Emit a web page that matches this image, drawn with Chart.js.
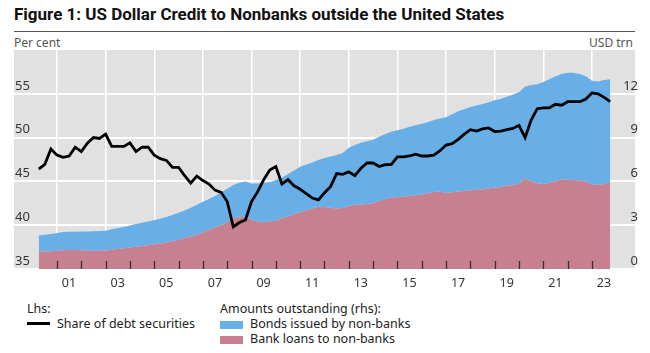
<!doctype html>
<html>
<head>
<meta charset="utf-8">
<title>US Dollar Credit to Nonbanks outside the United States</title>
<script src="https://cdn.jsdelivr.net/npm/chart.js@4.4.0/dist/chart.umd.min.js"></script>
<style>
  body { margin: 0; background: #fff; font-family: "Noto Sans", sans-serif; color: #333; }
  #wrap { position: relative; width: 650px; height: 353px; overflow: hidden; }
  #title { position: absolute; left: 14px; top: 4px; font: bold 17px Roboto, sans-serif; color: #111; white-space: nowrap; }
  #rule { position: absolute; left: 14px; top: 31px; width: 621px; height: 0; border-top: 1.5px solid #555; }
  .unit { position: absolute; top: 34px; font-size: 12px; color: #555; }
  #chart { position: absolute; left: 0; top: 0; }
  .leg { position: absolute; font-size: 12.5px; color: #222; white-space: nowrap; line-height: 15px; }
  .sw { display: inline-block; width: 23px; height: 8px; margin-right: 7px; vertical-align: -1px; }
  .ln { display: inline-block; width: 23px; height: 0; border-top: 3px solid #000; margin-right: 7px; vertical-align: 3px; }
</style>
</head>
<body>
<div id="wrap">
  <div id="title">Figure 1: US Dollar Credit to Nonbanks outside the United States</div>
  <div id="rule"></div>
  <div class="unit" style="left:14px">Per cent</div>
  <div class="unit" style="right:17px">USD trn</div>
  <canvas id="chart" width="650" height="298"></canvas>
  <div class="leg" style="left:27px; top:301px">Lhs:<br><span class="ln"></span>Share of debt securities</div>
  <div class="leg" style="left:220px; top:301px">Amounts outstanding (rhs):<br><span class="sw" style="background:#67afe6"></span>Bonds issued by non-banks<br><span class="sw" style="background:#c7808f"></span>Bank loans to non-banks</div>
</div>

<script>
// quarterly, 2000 Q1 .. 2023 Q3
var firstYear = 2000, lastYear = 2023, lastQuarter = 3;
var quarters = [];
for (var y = firstYear; y <= lastYear; y++) {
  for (var q = 1; q <= 4; q++) {
    if (y === lastYear && q > lastQuarter) break;
    quarters.push(y + "Q" + q);
  }
}

// Lhs, per cent
var shareDebtSecurities = [
  46.4, 46.95, 48.7, 48.0, 47.75, 47.9, 48.9, 48.4, 49.35, 50.0,
  49.9, 50.4, 49.0, 49.0, 49.0, 49.4, 48.4, 48.9, 48.9, 48.0,
  47.6, 47.4, 46.6, 46.6, 45.65, 44.8, 45.6, 45.1, 44.7, 44.0,
  43.75, 42.7, 39.8, 40.3, 40.6, 42.7, 43.8, 45.2, 46.3, 46.7,
  44.7, 45.2, 44.5, 44.1, 43.6, 43.1, 42.9, 43.7, 44.4, 45.9,
  45.8, 46.1, 45.65, 46.5, 47.1, 47.1, 46.7, 46.9, 46.95, 47.8,
  47.8, 47.9, 48.1, 47.9, 47.9, 48.0, 48.5, 49.15, 49.3, 49.8,
  50.4, 50.9, 50.75, 51.0, 51.1, 50.7, 50.75, 50.9, 51.05, 51.4,
  50.0, 52.0, 53.3, 53.4, 53.4, 53.8, 53.7, 54.1, 54.1, 54.1,
  54.4, 55.1, 55.0, 54.6, 54.1
];

// Rhs, USD trn
var bankLoans = [
  1.18, 1.2, 1.22, 1.25, 1.28, 1.3, 1.3, 1.28, 1.27, 1.25,
  1.25, 1.27, 1.32, 1.37, 1.42, 1.47, 1.52, 1.57, 1.63, 1.7,
  1.75, 1.82, 1.9, 2.0, 2.12, 2.22, 2.35, 2.5, 2.7, 2.85,
  3.0, 3.2, 3.45, 3.55, 3.6, 3.35, 3.25, 3.2, 3.25, 3.3,
  3.5, 3.6, 3.75, 3.9, 4.0, 4.15, 4.27, 4.25, 4.2, 4.15,
  4.18, 4.3, 4.4, 4.42, 4.45, 4.5, 4.65, 4.8, 4.88, 4.92,
  4.97, 5.0, 5.05, 5.1, 5.18, 5.27, 5.3, 5.2, 5.25, 5.3,
  5.35, 5.4, 5.43, 5.47, 5.52, 5.57, 5.62, 5.7, 5.75, 5.85,
  6.2, 6.0, 5.88, 5.82, 5.9, 6.0, 6.15, 6.12, 6.1, 6.07,
  6.0, 5.78, 5.75, 5.82, 5.9
];

var bondsNonBanks = [
  1.12, 1.15, 1.18, 1.22, 1.25, 1.25, 1.25, 1.28, 1.3, 1.33,
  1.35, 1.35, 1.4, 1.43, 1.46, 1.51, 1.56, 1.59, 1.62, 1.65,
  1.7, 1.75, 1.8, 1.85, 1.88, 1.98, 2.05, 2.1, 2.1, 2.15,
  2.25, 2.3, 2.3, 2.35, 2.4, 2.5, 2.6, 2.7, 2.7, 2.8,
  2.75, 2.9, 3.0, 3.1, 3.15, 3.15, 3.2, 3.35, 3.5, 3.65,
  3.77, 4.0, 4.1, 4.23, 4.3, 4.35, 4.4, 4.45, 4.52, 4.58,
  4.63, 4.75, 4.8, 4.85, 4.87, 4.93, 5.0, 5.2, 5.35, 5.5,
  5.6, 5.7, 5.77, 5.83, 5.88, 5.98, 6.03, 6.1, 6.2, 6.25,
  6.3, 6.6, 6.77, 6.98, 7.1, 7.2, 7.2, 7.33, 7.35, 7.28,
  7.2, 7.12, 7.1, 7.13, 7.1
];

var yearTicks = [2001, 2002, 2003, 2004, 2005, 2006, 2007, 2008, 2009, 2010, 2011, 2012,
                 2013, 2014, 2015, 2016, 2017, 2018, 2019, 2020, 2021, 2022, 2023];
var lhsTicks = [35, 40, 45, 50, 55];
var rhsTicks = [0, 3, 6, 9, 12];

// quarter point sits at end of its quarter
function qPos(s) { return +s.slice(0, 4) + (+s.slice(5)) / 4; }
function pts(arr) { return quarters.map(function (s, i) { return { x: qPos(s), y: arr[i] }; }); }

var greyBg = {
  id: 'greyBg',
  beforeDraw: function (chart) {
    var a = chart.chartArea, c = chart.ctx;
    c.save();
    c.fillStyle = '#e1e1e1';
    c.fillRect(a.left, a.top, a.right - a.left, a.bottom - a.top);
    c.restore();
  }
};

var yearMarks = {
  id: 'yearMarks',
  afterDatasetsDraw: function (chart) {
    var sx = chart.scales.x, a = chart.chartArea, c = chart.ctx;
    c.save();
    c.strokeStyle = '#333';
    c.lineWidth = 1.3;
    yearTicks.forEach(function (v) {
      var px = Math.round(sx.getPixelForValue(v)) + 0.5;
      c.beginPath();
      c.moveTo(px, a.bottom - 8);
      c.lineTo(px, a.bottom);
      c.stroke();
    });
    c.restore();
  }
};

new Chart(document.getElementById('chart'), {
  type: 'line',
  data: {
    datasets: [
      { label: 'Share of debt securities', data: pts(shareDebtSecurities), yAxisID: 'y',
        borderColor: '#000', borderWidth: 2.8, pointRadius: 0, fill: false, tension: 0 },
      { label: 'Bank loans to non-banks', data: pts(bankLoans), yAxisID: 'y1',
        borderWidth: 0, borderColor: 'rgba(0,0,0,0)', backgroundColor: '#c7808f', pointRadius: 0, fill: 'origin' },
      { label: 'Bonds issued by non-banks', data: pts(bondsNonBanks), yAxisID: 'y1',
        borderWidth: 0, borderColor: 'rgba(0,0,0,0)', backgroundColor: '#67afe6', pointRadius: 0, fill: '-1' }
    ]
  },
  options: {
    responsive: false,
    devicePixelRatio: 1,
    animation: false,
    layout: { padding: { top: 50, left: 14, right: 15, bottom: 0 } },
    plugins: { legend: { display: false }, tooltip: { enabled: false } },
    scales: {
      x: {
        type: 'linear', min: 1999.232, max: 2024.77,
        afterBuildTicks: function (s) { s.ticks = yearTicks.map(function (v) { return { value: v }; }); },
        afterFit: function (s) { s.height = 29; },
        grid: { drawTicks: false, lineWidth: 1.5,
                color: function (ctx) { return ctx.tick && ctx.tick.value % 2 === 1 ? '#fff' : 'rgba(0,0,0,0)'; } },
        border: { display: false },
        ticks: { autoSkip: false, maxRotation: 0, padding: 7, labelOffset: 12, color: '#333',
                 font: { family: 'Noto Sans', size: 12.5 },
                 callback: function (v) { return v % 2 === 1 ? String(v).slice(2) : ''; } }
      },
      y: {
        position: 'left', min: 35, max: 60,
        afterBuildTicks: function (s) { s.ticks = lhsTicks.map(function (v) { return { value: v }; }); },
        afterFit: function (s) { s.width = 0; },
        grid: { drawTicks: false, color: '#fff', lineWidth: 2 },
        border: { display: false },
        ticks: { mirror: true, padding: 1, labelOffset: -8, color: '#333', font: { family: 'Noto Sans', size: 13 } }
      },
      y1: {
        position: 'right', min: 0, max: 15, stacked: true,
        afterBuildTicks: function (s) { s.ticks = rhsTicks.map(function (v) { return { value: v }; }); },
        afterFit: function (s) { s.width = 0; },
        grid: { display: false },
        border: { display: false },
        ticks: { mirror: true, padding: 3, labelOffset: -8, color: '#333', font: { family: 'Noto Sans', size: 13 } }
      }
    }
  },
  plugins: [greyBg, yearMarks]
});
</script>
</body>
</html>
